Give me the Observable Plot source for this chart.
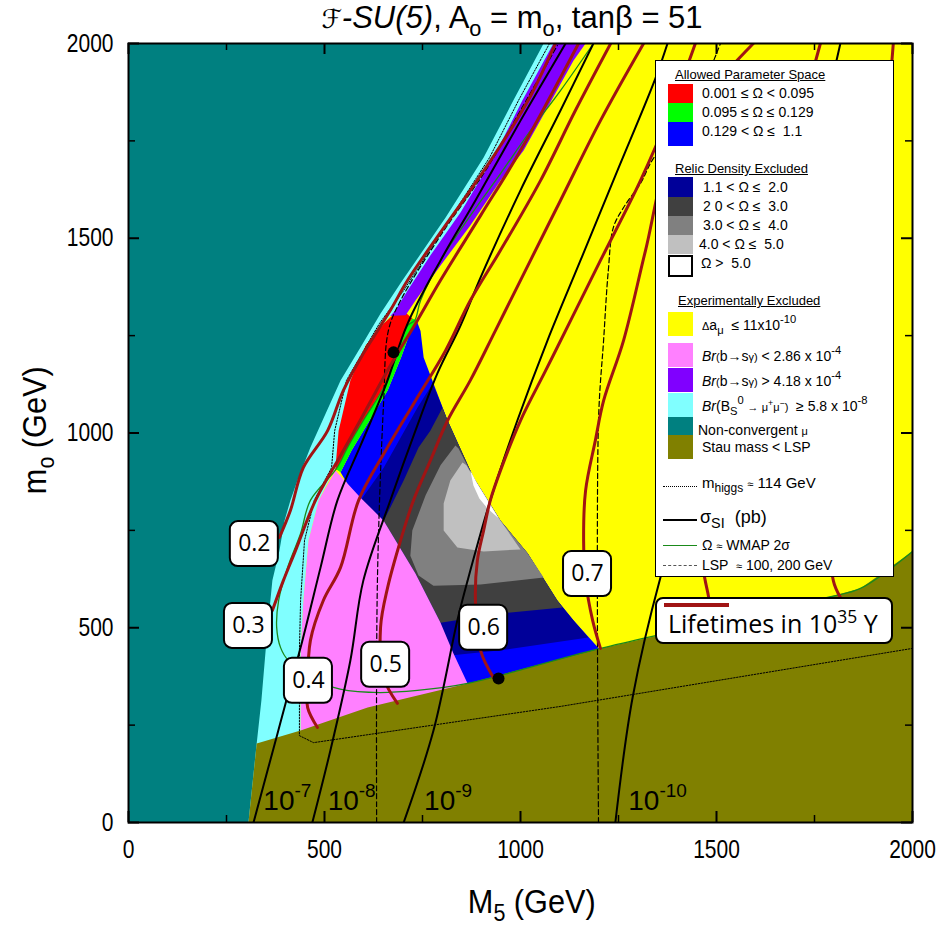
<!DOCTYPE html>
<html><head><meta charset="utf-8">
<script src="https://cdn.jsdelivr.net/npm/d3@7"></script>
<script src="https://cdn.jsdelivr.net/npm/@observablehq/plot@0.6"></script>
<style>
body{margin:0;background:#fff;}
#wrap{position:relative;width:946px;height:930px;font-family:"Liberation Sans",Arial,sans-serif;}
#wrap svg{position:absolute;left:0;top:0;}
.ov{position:absolute;white-space:nowrap;}
#legend{position:absolute;left:655px;top:60px;width:237px;height:515px;background:#fff;border:1px solid #000;font-size:14px;color:#000;}
#legend .sw{position:absolute;left:12px;width:25px;}
#legend .t{position:absolute;white-space:nowrap;line-height:15px;}
#legend .h{text-decoration:underline;left:19px;font-size:13px;}
#legend .ln{position:absolute;left:7px;width:34px;height:0;}
sub,sup{font-size:0.7em;line-height:0;}
sub{vertical-align:-0.35em;}
sup{vertical-align:0.6em;}
#legend sub,#legend sup{font-size:0.8em;}
#life{position:absolute;left:655px;top:597px;width:234px;height:43px;background:#fff;border:2px solid #000;border-radius:8px;font-family:"Open Sans","Noto Sans",sans-serif;font-size:25px;}
</style></head><body><div id="wrap"></div>
<script>
// ---------- region boundaries, [M5 (GeV), m0 (GeV)] ----------
const nonConvergent = [[0,0],[306,0],[327,203],[339,313],[352,467],[367,621],[385,698],[398,775],[413,827],[431,878],[464,963],[503,1050],[541,1135],[592,1220],[643,1307],[699,1392],[809,1553],[906,1707],[982,1854],[1059,2000],[0,2000]];
const bsMuMu = [[0,0],[439,0],[439,442],[446,570],[459,724],[485,827],[528,911],[536,1006],[566,1135],[605,1225],[651,1281],[681,1315],[712,1366],[770,1456],[847,1566],[931,1707],[1005,1854],[1084,2000],[0,2000]];
const bsgHigh = [[1166,2000],[1135,1956],[1069,1836],[1008,1725],[949,1648],[872,1533],[796,1430],[732,1340],[707,1302],[640,1300],[640,2000]];
const bsgLow = [[439,200],[439,442],[446,570],[459,724],[485,827],[528,904],[592,834],[651,775],[732,639],[796,513],[829,434],[865,357],[865,340]];
const omegaRed = [[528,904],[523,981],[554,1109],[605,1225],[651,1281],[694,1320],[724,1294],[712,1276],[686,1204],[651,1117],[599,1032],[559,963],[531,906]];
const omegaGreen = [[724,1294],[712,1276],[686,1204],[651,1117],[599,1032],[559,963],[531,906],[541,899],[569,955],[610,1024],[661,1109],[696,1196],[722,1268],[735,1289]];
const omegaBlue = [[541,899],[569,955],[610,1024],[661,1109],[696,1196],[722,1268],[735,1289],[745,1262],[753,1194],[778,1127],[814,1032],[880,886],[949,775],[1018,691],[1094,570],[1135,519],[1204,442],[1204,430],[865,345]];
const omegaDarkBlue = [[592,827],[651,911],[694,988],[737,1065],[776,1127],[814,1032],[880,886],[949,775],[1018,691],[1094,570],[1135,519],[1173,475],[949,442],[821,429],[796,467],[694,673],[617,801]];
const omegaDarkGrey = [[651,775],[668,809],[702,878],[740,963],[770,1006],[801,1065],[814,1032],[880,886],[949,775],[1018,691],[1094,570],[1107,552],[949,537],[796,513],[732,639]];
const omegaGrey = [[834,968],[796,917],[758,840],[724,750],[719,685],[740,634],[778,608],[898,611],[1059,629],[1018,691],[949,775],[880,886],[842,960]];
const omegaLightGrey = [[852,924],[821,878],[804,819],[804,750],[839,706],[906,696],[1000,701],[949,775],[880,886],[862,917]];
const omegaWhite = [[872,904],[880,865],[895,832],[916,806],[944,781],[913,832],[888,873]];
const stauLSP = [[306,0],[327,203],[439,236],[610,295],[865,357],[1204,447],[1783,578],[1867,601],[2000,696],[2000,0]];

// ---------- curves ----------
const wmap = [[1186,2000],[1102,1879],[1026,1777],[949,1666],[872,1558],[796,1443],[745,1340],[730,1289],[712,1276],[686,1204],[651,1117],[599,1032],[559,963],[531,909],[464,827],[439,742],[406,655],[383,570],[378,501],[388,449],[408,416],[523,347],[625,334],[737,339],[865,357],[1204,447],[1783,578],[1867,601],[2000,696]];
const mHiggs = [[1074,2000],[995,1854],[921,1707],[760,1456],[702,1366],[640,1281],[556,1135],[526,1006],[518,911],[474,827],[449,724],[439,570],[436,442],[436,223],[472,205],[1102,298],[2000,447]];
const lsp100 = [[633,0],[635,621],[651,1083],[663,1263],[694,1340],[796,1507],[911,1674],[1000,1828],[1094,1995]];
const lsp200 = [[1199,0],[1199,1032],[1212,1238],[1224,1417],[1237,1528],[1263,1579],[1306,1641],[1339,1705],[1434,1828],[1510,2000]];
const sigma7 = [[319,0],[380,228],[439,449],[490,655],[533,827],[592,968],[656,1122],[712,1281],[796,1443],[885,1597],[1000,1802],[1115,2000]];
const sigma8 = [[469,0],[515,185],[566,416],[599,621],[668,827],[732,1006],[788,1153],[847,1276],[898,1399],[1000,1623],[1102,1828],[1186,2000]];
const sigma9 = [[702,0],[778,236],[839,519],[865,621],[923,827],[992,1032],[1069,1238],[1153,1443],[1242,1661],[1344,1910],[1375,2000]];
const sigma10 = [[1242,0],[1286,321],[1357,629],[1434,878],[1510,1083],[1612,1340],[1714,1597],[1816,2000]];
const life02 = [[385,732],[413,801],[446,911],[508,1006],[548,1109],[599,1204],[668,1315],[712,1392],[796,1515],[872,1623],[949,1738],[1026,1866],[1089,2000]];
const life03 = [[367,544],[395,621],[426,698],[477,827],[541,942],[605,1058],[668,1173],[737,1289],[796,1392],[898,1558],[1000,1725],[1148,2000]];
const life04 = [[482,244],[457,295],[457,347],[464,467],[497,570],[541,655],[587,827],[656,955],[732,1083],[809,1212],[872,1340],[949,1469],[1051,1648],[1140,1828],[1230,2000]];
const life05 = [[686,306],[651,372],[643,501],[661,603],[694,724],[727,827],[770,929],[814,1032],[872,1135],[936,1263],[1000,1392],[1102,1597],[1204,1802],[1314,2000]];
const life06 = [[931,372],[898,442],[885,570],[890,673],[906,750],[923,827],[949,904],[1000,1032],[1064,1160],[1128,1289],[1204,1443],[1306,1648],[1383,1828],[1446,2000]];
const life07 = [[1204,447],[1184,519],[1166,621],[1161,724],[1166,852],[1191,981],[1212,1083],[1263,1238],[1319,1469],[1383,1725],[1485,1879],[1594,2000]];
const life08 = [[1490,506],[1480,578],[1467,647],[1459,827],[1510,1083],[1612,1469],[1689,1725],[1765,2000]];
const life09 = [[1816,578],[1798,621],[1791,775],[1816,1032],[1867,1340],[1918,1648],[1951,2000]];
const benchmarks = [[676,1207],[944,370]];

// ---------- labels ----------
const levelLabels = [{x:321,y:716,t:"0.2"},{x:306,y:506,t:"0.3"},{x:459,y:365,t:"0.4"},{x:656,y:406,t:"0.5"},{x:906,y:501,t:"0.6"},{x:1171,y:639,t:"0.7"}];
const sigmaLabels = [{x:344,y:31,e:"-7"},{x:508,y:31,e:"-8"},{x:754,y:31,e:"-9"},{x:1275,y:31,e:"-10"}];
const xMajor = [0,500,1000,1500,2000], xMinor = [250,750,1250,1750];
const yMajor = [0,500,1000,1500,2000], yMinor = [250,750,1250,1750];

const C = {yellow:"#ffff00",teal:"#008080",olive:"#808000",cyan:"#80ffff",purple:"#8000ff",pink:"#ff80ff",red:"#ff0000",green:"#00ff00",blue:"#0000ff",dblue:"#000099",dgrey:"#404040",grey:"#808080",lgrey:"#c0c0c0",life:"#a01414",wmap:"#1a8a1a"};
const FH = 930-43-108, FW = 946-128-34;

const poly = (pts, fill) => Plot.line(pts, {x: d=>d[0], y: d=>d[1], fill, stroke: "none", clip: true});
const curve = (pts, o) => Plot.line(pts, {x: d=>d[0], y: d=>d[1], curve: "catmull-rom", fill: "none", clip: true, ...o});

const plot = Plot.plot({
  width: 946, height: 930, marginLeft: 128, marginRight: 34, marginTop: 43, marginBottom: 108,
  x: {domain: [0,2000], axis: null},
  y: {domain: [0,2000], axis: null},
  style: {background: "transparent", fontFamily: "'Liberation Sans',Arial,sans-serif", overflow: "visible"},
  marks: [
    Plot.frame({fill: C.yellow, stroke: "none"}),
    poly(omegaBlue, C.blue),
    poly(omegaDarkBlue, C.dblue),
    poly(omegaDarkGrey, C.dgrey),
    poly(omegaGrey, C.grey),
    poly(omegaLightGrey, C.lgrey),
    poly(omegaWhite, "#ffffff"),
    poly(bsgLow, C.pink),
    poly(omegaRed, C.red),
    poly(omegaGreen, C.green),
    poly(bsgHigh, C.purple),
    poly(bsMuMu, C.cyan),
    poly(nonConvergent, C.teal),
    poly(stauLSP, C.olive),
    curve(wmap, {stroke: C.wmap, strokeWidth: 1.3}),
    curve(mHiggs, {stroke: "#000", strokeWidth: 1, strokeDasharray: "1.5,1.5", curve: "linear"}),
    curve(lsp100, {stroke: "#000", strokeWidth: 1.2, strokeDasharray: "5,3"}),
    curve(lsp200, {stroke: "#000", strokeWidth: 1.2, strokeDasharray: "5,3"}),
    ...[sigma7, sigma8, sigma9, sigma10].map(s => curve(s, {stroke: "#000", strokeWidth: 2})),
    ...[life02, life03, life04, life05, life06, life07, life08, life09].map(s => curve(s, {stroke: C.life, strokeWidth: 3})),
    Plot.dot(benchmarks, {x: d=>d[0], y: d=>d[1], r: 6, fill: "#000"}),
    Plot.text(levelLabels, {x: "x", y: "y", text: "t", fontSize: 23, fontFamily: "'Open Sans','Noto Sans',sans-serif", fill: "#000"}),
    Plot.text(sigmaLabels, {x: "x", y: "y", text: () => "10", textAnchor: "start", lineAnchor: "bottom", fontSize: 28, fill: "#000"}),
    Plot.frame({stroke: "#000", strokeWidth: 2}),
    Plot.tickX(xMajor, {x: d=>d, insetTop: FH-11, strokeWidth: 2}),
    Plot.tickX(xMajor, {x: d=>d, insetBottom: FH-11, strokeWidth: 2}),
    Plot.tickX(xMinor, {x: d=>d, insetTop: FH-7, strokeWidth: 1.5}),
    Plot.tickX(xMinor, {x: d=>d, insetBottom: FH-7, strokeWidth: 1.5}),
    Plot.tickY(yMajor, {y: d=>d, insetRight: FW-11, strokeWidth: 2}),
    Plot.tickY(yMajor, {y: d=>d, insetLeft: FW-11, strokeWidth: 2}),
    Plot.tickY(yMinor, {y: d=>d, insetRight: FW-7, strokeWidth: 1.5}),
    Plot.tickY(yMinor, {y: d=>d, insetLeft: FW-7, strokeWidth: 1.5}),
    Plot.text(xMajor, {x: d=>d, text: d=>String(d), frameAnchor: "bottom", dy: 35, fontSize: 25, fill: "#000"}),
    Plot.text(yMajor, {y: d=>d, text: d=>String(d), frameAnchor: "left", dx: -15, textAnchor: "end", fontSize: 25, fill: "#000"})
  ]
});
const wrap = document.getElementById("wrap");
wrap.append(plot);

const svg = d3.select(plot);
const sx = plot.scale("x"), sy = plot.scale("y");
// condensed tick labels (the original uses a narrow face)
const tickStrings = new Set(xMajor.concat(yMajor).map(String));
svg.selectAll("text").filter(function(){ return tickStrings.has(this.textContent); }).each(function(){
  const w = this.getComputedTextLength();
  this.setAttribute("textLength", (w * 0.84).toFixed(1));
  this.setAttribute("lengthAdjust", "spacingAndGlyphs");
});
// rounded boxes behind contour level labels
const lvlTexts = svg.selectAll("text").filter(function(){ return /^0\.\d$/.test(this.textContent); }).nodes();
if (lvlTexts.length) {
  const g = lvlTexts[0].parentNode;
  levelLabels.forEach(d => {
    svg.insert("rect", () => g).attr("x", sx.apply(d.x) - 24).attr("y", sy.apply(d.y) - 22)
      .attr("width", 48).attr("height", 45).attr("rx", 8).attr("fill", "#fff").attr("stroke", "#000").attr("stroke-width", 2);
  });
}
// exponents for the sigma labels
const sigTexts = svg.selectAll("text").filter(function(){ return this.textContent === "10"; }).nodes();
sigTexts.forEach((el, i) => {
  d3.select(el).append("tspan").attr("dy", -13).attr("font-size", 19).text(sigmaLabels[i].e);
});

wrap.insertAdjacentHTML("beforeend", `
<div class="ov" style="left:212px;top:1px;width:600px;text-align:center;font-size:31px;line-height:34px;"><i style="font-family:'DejaVu Sans',serif;font-size:26px">ℱ</i><i>-SU(5)</i>, A<sub>o</sub> = m<sub>o</sub>, tanβ = 51</div>
<div class="ov" style="left:232px;top:884px;width:600px;text-align:center;font-size:33px;line-height:36px;"><span style="display:inline-block;transform:scaleX(0.93)">M<sub>5</sub> (GeV)</span></div>
<div class="ov" style="left:-265px;top:412px;width:600px;text-align:center;font-size:33px;line-height:36px;transform:rotate(-90deg);"><span style="display:inline-block;transform:scaleX(0.93)">m<sub>o</sub> (GeV)</span></div>
<div id="legend">
  <div class="t h" style="top:6px">Allowed Parameter Space</div>
  <div class="sw" style="top:23px;height:19px;background:${C.red}"></div>
  <div class="sw" style="top:42px;height:19px;background:${C.green}"></div>
  <div class="sw" style="top:61px;height:24px;background:${C.blue}"></div>
  <div class="t" style="left:46px;top:25px">0.001 ≤ Ω &lt; 0.095</div>
  <div class="t" style="left:46px;top:44px">0.095 ≤ Ω ≤ 0.129</div>
  <div class="t" style="left:46px;top:63px">0.129 &lt; Ω ≤ &nbsp;1.1</div>
  <div class="t h" style="top:100px">Relic Density Excluded</div>
  <div class="sw" style="top:116px;height:20px;background:${C.dblue}"></div>
  <div class="sw" style="top:136px;height:19px;background:${C.dgrey}"></div>
  <div class="sw" style="top:155px;height:19px;background:${C.grey}"></div>
  <div class="sw" style="top:174px;height:19px;background:${C.lgrey}"></div>
  <div class="sw" style="top:194px;height:22px;background:#fff;border:2px solid #000;box-sizing:border-box"></div>
  <div class="t" style="left:47px;top:119px">1.1 &lt; Ω ≤ &nbsp;2.0</div>
  <div class="t" style="left:47px;top:138px">2 0 &lt; Ω ≤ &nbsp;3.0</div>
  <div class="t" style="left:47px;top:157px">3.0 &lt; Ω ≤ &nbsp;4.0</div>
  <div class="t" style="left:43px;top:176px">4.0 &lt; Ω ≤ &nbsp;5.0</div>
  <div class="t" style="left:45px;top:195px">Ω &gt; &nbsp;5.0</div>
  <div class="t h" style="top:232px;left:22px">Experimentally Excluded</div>
  <div class="sw" style="top:251px;height:24px;background:${C.yellow}"></div>
  <div class="sw" style="top:282px;height:24px;background:${C.pink}"></div>
  <div class="sw" style="top:307px;height:24px;background:${C.purple}"></div>
  <div class="sw" style="top:332px;height:24px;background:${C.cyan}"></div>
  <div class="sw" style="top:356px;height:18px;background:${C.teal}"></div>
  <div class="sw" style="top:374px;height:24px;background:${C.olive}"></div>
  <div class="t" style="left:46px;top:257px"><span style="font-size:11px">Δ</span>a<sub>μ</sub> &nbsp;≤ 11x10<sup>-10</sup></div>
  <div class="t" style="left:46px;top:288px"><i>Br</i><span style="font-size:11px">(</span>b→s<span style="font-size:11px">γ)</span> &lt; 2.86 x 10<sup>-4</sup></div>
  <div class="t" style="left:46px;top:313px"><i>Br</i><span style="font-size:11px">(</span>b→s<span style="font-size:11px">γ)</span> &gt; 4.18 x 10<sup>-4</sup></div>
  <div class="t" style="left:46px;top:338px"><i>Br</i>(B<sub>S</sub><sup>0</sup> <span style="font-size:11px">→ μ<sup>+</sup>μ<sup>−</sup>)</span> &nbsp;≥ 5.8 x 10<sup>-8</sup></div>
  <div class="t" style="left:42px;top:362px">Non-convergent <span style="font-size:11px">μ</span></div>
  <div class="t" style="left:46px;top:379px">Stau mass &lt; LSP</div>
  <div class="ln" style="top:425px;border-top:1px dotted #000"></div>
  <div class="t" style="left:46px;top:414px;font-size:15px">m<sub>higgs</sub> <span style="font-size:11px">≈</span> 114 GeV</div>
  <div class="ln" style="top:458px;border-top:2px solid #000"></div>
  <div class="t" style="left:44px;top:449px;font-size:18px">σ<sub>SI</sub> &nbsp;(pb)</div>
  <div class="ln" style="top:484px;border-top:1px solid ${C.wmap}"></div>
  <div class="t" style="left:46px;top:477px">Ω <span style="font-size:11px">≈</span> WMAP 2σ</div>
  <div class="ln" style="top:504px;border-top:1px dashed #555"></div>
  <div class="t" style="left:46px;top:497px">LSP &nbsp;<span style="font-size:11px">≈</span> 100, 200 GeV</div>
</div>
<div id="life">
  <div style="position:absolute;left:7px;top:4px;width:65px;height:4px;background:${C.life}"></div>
  <div class="ov" style="left:11px;top:9px;line-height:30px">Lifetimes in 10<sup>35</sup> Y</div>
</div>
`);
</script></body></html>
